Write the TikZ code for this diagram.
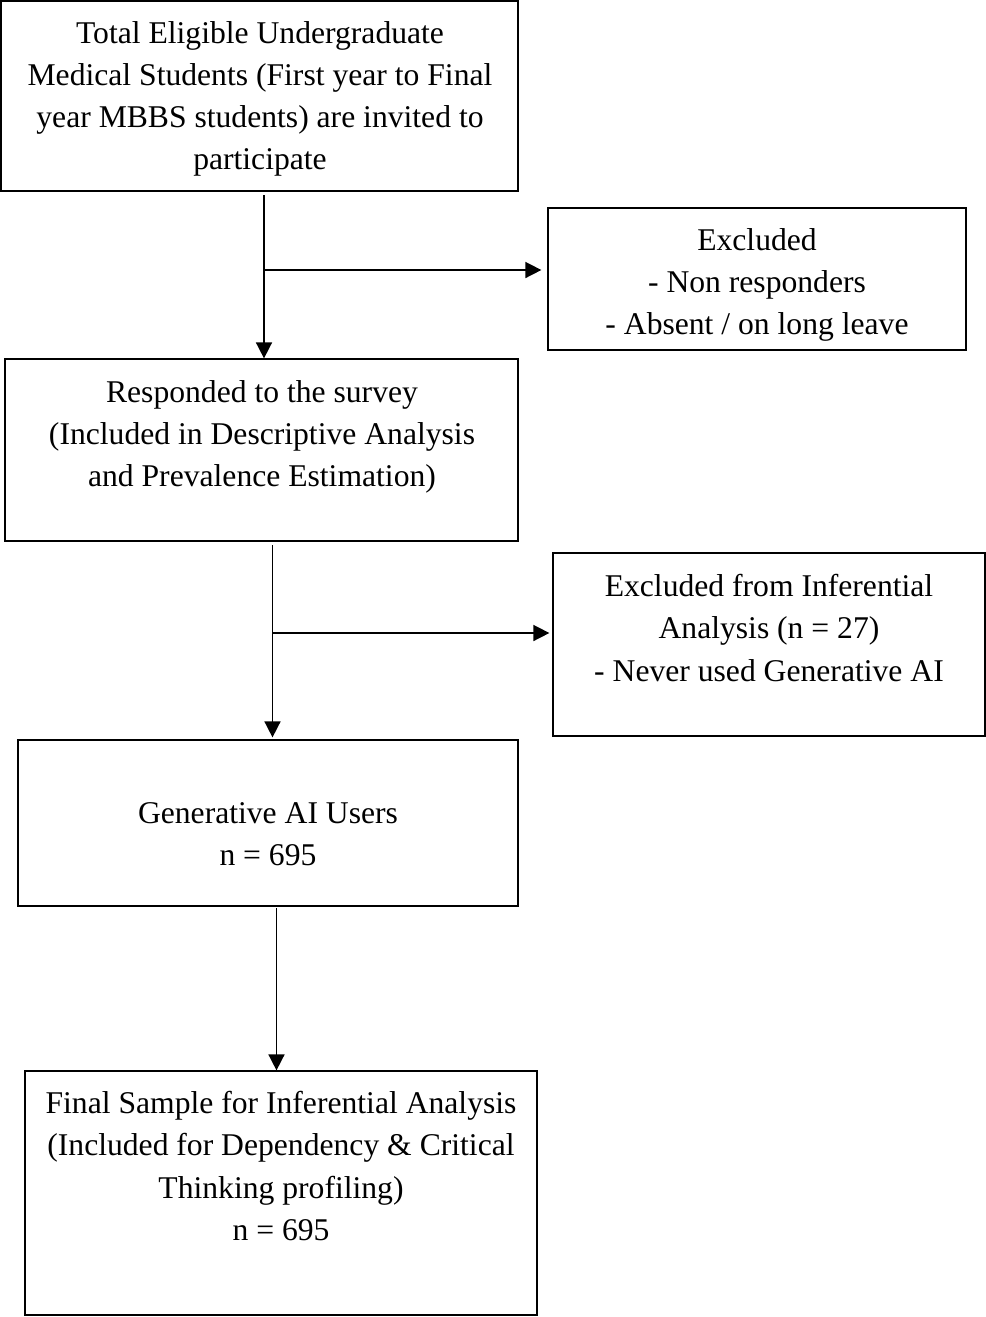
\documentclass[tikz,border=0pt]{standalone}
\usepackage{fontspec}
\setmainfont{Liberation Serif}
\usetikzlibrary{arrows.meta}
\tikzset{
  box/.style={draw, line width=0.7pt, rectangle, inner sep=0pt},
  txt/.style={align=center, inner sep=0pt, font=\fontsize{18}{24}\selectfont},
  arr/.style={line width=0.9pt, -{Triangle[length=0.32cm, width=0.32cm]}}
}
\begin{document}
\begin{tikzpicture}
  \useasboundingbox (0,0) rectangle (19.72,-26.34);
  % boxes
  \node[box, minimum width=10.34cm, minimum height=3.80cm] (b1) at (5.19, -1.92) {};
  \node[box, minimum width=8.36cm, minimum height=2.84cm] (b2) at (15.14, -5.58) {};
  \node[box, minimum width=10.26cm, minimum height=3.64cm] (b3) at (5.23, -9.00) {};
  \node[box, minimum width=8.64cm, minimum height=3.66cm] (b4) at (15.38, -12.89) {};
  \node[box, minimum width=10.00cm, minimum height=3.32cm] (b5) at (5.36, -16.46) {};
  \node[box, minimum width=10.24cm, minimum height=4.88cm] (b6) at (5.62, -23.86) {};
  % texts
  \node[txt] (t1) at (5.20, -1.98) {Total Eligible Undergraduate\\Medical Students (First year to Final\\year MBBS students) are invited to\\participate};
  \node[txt] (t2) at (15.14, -5.70) {Excluded\\- Non responders\\- Absent / on long leave};
  \node[txt] (t3) at (5.24, -8.74) {Responded to the survey\\(Included in Descriptive Analysis\\and Prevalence Estimation)};
  \node[txt] (t4) at (15.38, -12.56) {Excluded from Inferential\\Analysis (n = 27)\\- Never used Generative AI};
  \node[txt] (t5) at (5.36, -16.68) {Generative AI Users\\n = 695};
  \node[txt] (t6) at (5.62, -23.32) {Final Sample for Inferential Analysis\\(Included for Dependency \& Critical\\Thinking profiling)\\n = 695};
  % connectors
  \coordinate (s1) at (5.28, -3.90);
  \coordinate (j1) at (5.28, -5.40);
  \coordinate (s2) at (5.45, -10.90);
  \coordinate (j2) at (5.45, -12.66);
  \coordinate (s3) at (5.53, -18.16);
  \draw[arr] (s1) -- (s1 |- b3.north);
  \draw[arr] (j1) -- ([xshift=-0.12cm]j1 -| b2.west);
  \draw[arr] (s2) -- ([yshift=0.04cm]s2 |- b5.north);
  \draw[arr] (j2) -- ([xshift=-0.06cm]j2 -| b4.west);
  \draw[arr] (s3) -- (s3 |- b6.north);
\end{tikzpicture}
\end{document}
